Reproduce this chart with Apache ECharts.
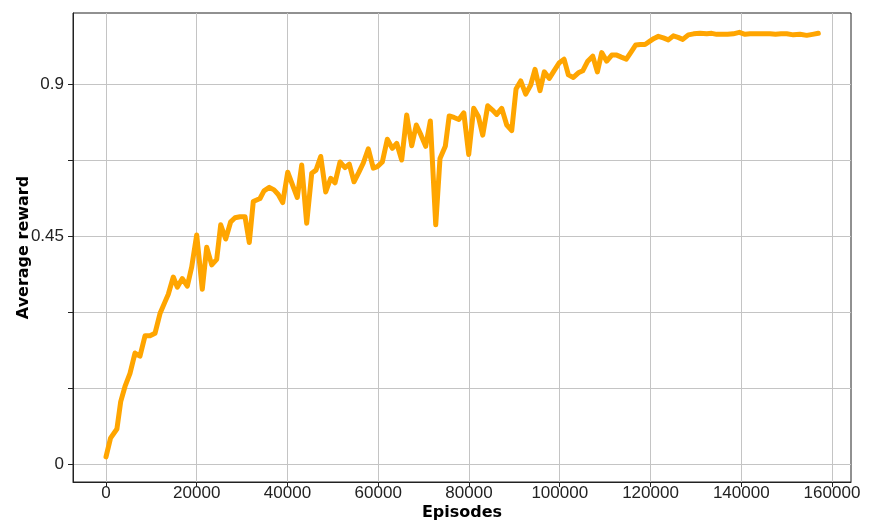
<!DOCTYPE html>
<html>
<head>
<meta charset="utf-8">
<script src="https://cdn.jsdelivr.net/npm/echarts@6/dist/echarts.min.js"></script>
<style>
  html, body { margin: 0; padding: 0; background: #fff; }
  #chart { width: 881px; height: 525px; }
</style>
</head>
<body>
<div id="chart"></div>
<script>
// Training curve: average reward against number of episodes
const episodes = [
  0, 1000, 2400, 3240, 4190, 5290, 6390, 7490, 8600, 9700,
  10800, 11900, 13000, 13730, 14830, 15710, 16820, 17920, 18890, 19990,
  21220, 22190, 23300, 24400, 25280, 26380, 27480, 28430, 29530, 30640,
  31580, 32460, 33940, 34820, 35990, 37030, 37970, 38950, 40050, 41100,
  42160, 43130, 44230, 45340, 46280, 47320, 48420, 49520, 50470, 51570,
  52680, 53620, 54660, 55690, 56710, 57810, 58910, 59800, 60900, 62000,
  63100, 64070, 65170, 66270, 67380, 68390, 69430, 70460, 71480, 72670,
  73610, 74780, 75640, 76700, 77760, 78860, 79940, 81040, 82060, 83030,
  84130, 85120, 86110, 87210, 88320, 89420, 90370, 91400, 92500, 93600,
  94550, 95650, 96600, 97700, 98810, 99910, 100950, 101900, 103000, 104100,
  105070, 106170, 107270, 108290, 109250, 110350, 111460, 112560, 113570, 114670,
  115710, 116750, 117760, 118800, 119790, 120780, 121730, 122830, 123930, 125040,
  126070, 127110, 128340, 129490, 130920, 132400, 133500, 134600, 135770, 136980,
  138260, 139580, 140840, 141940, 143040, 144150, 145250, 146350, 147560, 148770,
  150030, 151480, 152960, 154430, 155710, 156990
];

const avgReward = [
  0.014, 0.051, 0.069, 0.123, 0.153, 0.179, 0.219, 0.213, 0.253, 0.253,
  0.258, 0.297, 0.320, 0.335, 0.369, 0.349, 0.366, 0.351, 0.389, 0.452,
  0.345, 0.428, 0.393, 0.404, 0.472, 0.444, 0.478, 0.486, 0.488, 0.488,
  0.437, 0.518, 0.524, 0.539, 0.546, 0.541, 0.532, 0.516, 0.576, 0.551,
  0.526, 0.590, 0.475, 0.574, 0.580, 0.607, 0.537, 0.564, 0.555, 0.596,
  0.585, 0.592, 0.557, 0.575, 0.594, 0.622, 0.584, 0.587, 0.596, 0.641,
  0.623, 0.633, 0.600, 0.689, 0.628, 0.669, 0.649, 0.627, 0.677, 0.472,
  0.603, 0.627, 0.687, 0.684, 0.680, 0.693, 0.611, 0.702, 0.686, 0.649,
  0.707, 0.699, 0.690, 0.702, 0.669, 0.658, 0.740, 0.756, 0.730, 0.748,
  0.779, 0.737, 0.774, 0.761, 0.777, 0.792, 0.799, 0.768, 0.763, 0.772,
  0.776, 0.795, 0.805, 0.774, 0.812, 0.795, 0.807, 0.807, 0.803, 0.799,
  0.813, 0.827, 0.828, 0.828, 0.834, 0.840, 0.844, 0.841, 0.837, 0.845,
  0.842, 0.838, 0.847, 0.849, 0.850, 0.849, 0.850, 0.848, 0.848, 0.848,
  0.849, 0.852, 0.848, 0.849, 0.849, 0.849, 0.849, 0.849, 0.848, 0.849,
  0.849, 0.847, 0.848, 0.846, 0.848, 0.850
];

// Tick positions on each axis and the text printed beside them
const xTicks = [0, 20000, 40000, 60000, 80000, 100000, 120000, 140000, 160000];
const yTicks = [0, 0.15, 0.3, 0.45, 0.6, 0.75];
const yTickLabels = ['0', '', '', '0.45', '', '0.9'];

const points = episodes.map((e, i) => [e, avgReward[i]]);

const tickFont = { fontFamily: 'Liberation Sans', fontSize: 17, color: '#222' };
const titleFont = { fontFamily: 'DejaVu Sans', fontWeight: 'bold', fontSize: 16, color: '#000' };

const chart = echarts.init(document.getElementById('chart'), null, { renderer: 'canvas' });
chart.setOption({
  animation: false,
  backgroundColor: '#fff',
  grid: {
    left: 73, right: 30, top: 13, bottom: 43,
    outerBoundsMode: 'none',
    containLabel: false,
    show: true, borderColor: '#222', borderWidth: 1, backgroundColor: 'transparent'
  },
  xAxis: {
    type: 'value',
    min: -7273, max: 164190,
    name: 'Episodes', nameLocation: 'middle', nameGap: 23,
    nameMoveOverlap: false,
    nameTextStyle: titleFont,
    axisLine: { show: true, onZero: false, lineStyle: { color: '#222', width: 1 } },
    axisTick: { show: true, length: 5, inside: false, customValues: xTicks, lineStyle: { color: '#222' } },
    axisLabel: Object.assign({
      margin: 3, customValues: xTicks, showMinLabel: true, showMaxLabel: true,
      hideOverlap: false,
      formatter: (v) => String(Math.round(v))
    }, tickFont),
    splitLine: { show: true, lineStyle: { color: '#c4c4c4', width: 1 } }
  },
  yAxis: {
    type: 'value',
    min: -0.03553, max: 0.89013,
    name: 'Average reward', nameLocation: 'middle', nameGap: 41, nameRotate: 90,
    nameMoveOverlap: false,
    nameTextStyle: titleFont,
    axisLine: { show: true, onZero: false, lineStyle: { color: '#222', width: 1 } },
    axisTick: { show: true, length: 5, inside: false, customValues: yTicks, lineStyle: { color: '#222' } },
    axisLabel: Object.assign({
      margin: 9,
      customValues: yTicks,
      formatter: (v) => {
        const i = yTicks.findIndex(t => Math.abs(t - v) < 1e-9);
        return i >= 0 ? yTickLabels[i] : '';
      }
    }, tickFont),
    splitLine: { show: true, lineStyle: { color: '#c4c4c4', width: 1 } }
  },
  series: [{
    type: 'line',
    data: points,
    showSymbol: false,
    smooth: false,
    lineStyle: { color: '#FFA500', width: 5, join: 'round', cap: 'round' },
    itemStyle: { color: '#FFA500' }
  }]
});
</script>
</body>
</html>
